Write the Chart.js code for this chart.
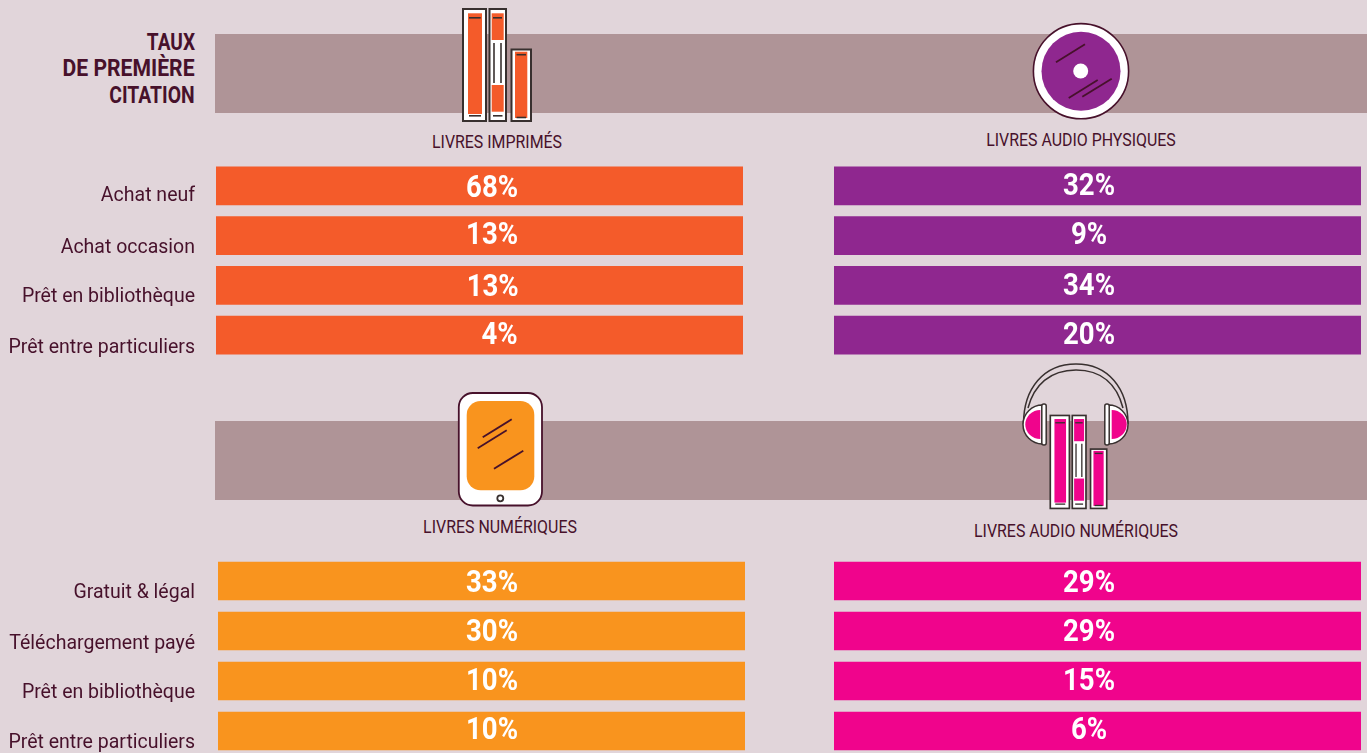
<!DOCTYPE html>
<html lang="fr">
<head>
<meta charset="utf-8">
<title>Taux de première citation</title>
<script src="https://cdn.jsdelivr.net/npm/chart.js@4"></script>
<style>
  html, body { margin: 0; padding: 0; }
  body { width: 1367px; height: 753px; overflow: hidden; position: relative; background: #e1d5da; font-family: Roboto, sans-serif; color: #47112b; }
  .band { position: absolute; left: 215px; width: 1152px; height: 79px; background: #af9497; }
  canvas { position: absolute; }
  svg { position: absolute; left: 0; top: 0; }
  .txt { position: absolute; white-space: nowrap; line-height: 1; }
  .heading { font-weight: 700; font-size: 23px; right: 1172px; transform-origin: right center; }
  .panel { font-size: 18.5px; transform: translateX(-50%) scaleX(0.86); }
</style>
</head>
<body>
<div class="band" style="top:34px"></div>
<div class="band" style="top:421px"></div>

<div class="txt heading" style="top:31px;transform:scaleX(0.83)">TAUX</div>
<div class="txt heading" style="top:57px;transform:scaleX(0.92)">DE PREMIÈRE</div>
<div class="txt heading" style="top:84px;transform:scaleX(0.84)">CITATION</div>

<div class="txt panel" style="left:497px;top:133px">LIVRES IMPRIMÉS</div>
<div class="txt panel" style="left:1081px;top:131px">LIVRES AUDIO PHYSIQUES</div>
<div class="txt panel" style="left:500px;top:518px">LIVRES NUMÉRIQUES</div>
<div class="txt panel" style="left:1076px;top:522px">LIVRES AUDIO NUMÉRIQUES</div>

<canvas id="printed" width="743" height="199" style="left:0;top:161px"></canvas>
<canvas id="audioPhysical" width="527" height="199" style="left:834px;top:161px"></canvas>
<canvas id="digital" width="745" height="200" style="left:0;top:556px"></canvas>
<canvas id="audioDigital" width="527" height="200" style="left:834px;top:556px"></canvas>

<svg width="1367" height="753" viewBox="0 0 1367 753">
  <defs>
    <g id="books">
      <g fill="#fff" stroke="#38302f" stroke-width="2">
        <rect x="463" y="9" width="23" height="112"/>
        <rect x="489.5" y="9" width="16.5" height="112"/>
        <rect x="511.5" y="49.5" width="19.5" height="71.5"/>
      </g>
      <g fill="currentColor">
        <rect x="468" y="13.3" width="14" height="100.7"/>
        <rect x="491.7" y="13.3" width="12" height="26.7"/>
        <rect x="491.7" y="85" width="12" height="26.7"/>
        <rect x="515" y="51.7" width="12.3" height="66.3"/>
      </g>
      <g stroke="#38302f" stroke-width="1.6">
        <line x1="469" y1="17.8" x2="480.7" y2="17.8"/>
        <line x1="469" y1="115.8" x2="481" y2="115.8"/>
        <line x1="493" y1="17.8" x2="502" y2="17.8"/>
        <line x1="493" y1="115.8" x2="502.5" y2="115.8"/>
        <line x1="494" y1="43" x2="494" y2="83"/>
        <line x1="501" y1="43" x2="501" y2="83"/>
        <line x1="516.5" y1="54.7" x2="526" y2="54.7"/>
        <line x1="516.5" y1="117.5" x2="526" y2="117.5"/>
      </g>
    </g>
  </defs>

  <use href="#books" style="color:#f45b2a"/>

  <!-- disque -->
  <circle cx="1081" cy="71.2" r="47.6" fill="#fff" stroke="#47112b" stroke-width="1.6"/>
  <circle cx="1081" cy="71.2" r="39.5" fill="#8f278f"/>
  <circle cx="1080.7" cy="71" r="7.5" fill="#fff"/>
  <g stroke="#47112b" stroke-width="1.8">
    <line x1="1056" y1="62.3" x2="1085" y2="44.3"/>
    <line x1="1068.7" y1="98" x2="1097.7" y2="80"/>
    <line x1="1082.3" y1="96.7" x2="1111.7" y2="78.7"/>
  </g>

  <!-- tablette -->
  <rect x="458.8" y="393" width="83.2" height="112.5" rx="14" fill="#fff" stroke="#47112b" stroke-width="1.8"/>
  <rect x="466.7" y="401" width="67.6" height="89.3" rx="14" fill="#f9941e"/>
  <g stroke="#47112b" stroke-width="1.8">
    <line x1="482.7" y1="437.3" x2="511.7" y2="419.3"/>
    <line x1="477.7" y1="448.3" x2="506.7" y2="430.3"/>
    <line x1="494" y1="468.7" x2="523.3" y2="450.7"/>
  </g>
  <circle cx="500.3" cy="498.3" r="3" fill="#fff" stroke="#38302f" stroke-width="1.8"/>

  <!-- casque et livres audio -->
  <g fill="none" stroke="#38302f" stroke-width="1.5">
    <path d="M1023.5 424 C1023.5 388 1044 364 1076 364 S1128 388 1128 424"/>
    <path d="M1028 408 C1034 385 1050 370 1076 370 S1117 385 1123 408"/>
  </g>
  <g fill="#fff" stroke="#38302f" stroke-width="1.5">
    <path d="M1042.5 405 A19.5 19.5 0 0 0 1042.5 444 Z"/>
    <path d="M1108.5 405 A19.5 19.5 0 0 1 1108.5 444 Z"/>
    <rect x="1041.8" y="404" width="4.4" height="41" rx="2"/>
    <rect x="1104.8" y="404" width="4.4" height="41" rx="2"/>
  </g>
  <path d="M1040.3 410 A15 14.5 0 0 0 1040.3 439 Z" fill="#f0048c"/>
  <path d="M1111.7 410 A15 14.5 0 0 1 1111.7 439 Z" fill="#f0048c"/>
  <use href="#books" transform="translate(666 408) scale(0.83)" style="color:#f0048c"/>
</svg>

<script>
const topCategories = ["Achat neuf", "Achat occasion", "Prêt en bibliothèque", "Prêt entre particuliers"];
const bottomCategories = ["Gratuit & légal", "Téléchargement payé", "Prêt en bibliothèque", "Prêt entre particuliers"];

const printedValues = [68, 13, 13, 4];
const audioPhysicalValues = [32, 9, 34, 20];
const digitalValues = [33, 30, 10, 10];
const audioDigitalValues = [29, 29, 15, 6];

// every bar runs the full panel width, the figure is only in its label
const fullBars = [100, 100, 100, 100];

const INK = "#47112b";

// squeeze Roboto a bit so it sits closer to the condensed face of the original
function drawSqueezed(ctx, text, x, y, squeeze) {
  ctx.save();
  ctx.translate(x, y);
  ctx.scale(squeeze, 1);
  ctx.fillText(text, 0, 0);
  ctx.restore();
}

const barTextPlugin = {
  id: "barText",
  afterDatasetsDraw(chart, args, opts) {
    const { ctx, scales } = chart;
    ctx.save();
    ctx.textBaseline = "middle";

    ctx.fillStyle = "#fff";
    ctx.textAlign = "center";
    ctx.font = "700 31px Roboto, sans-serif";
    opts.values.forEach((value, i) => {
      const x = scales.x.getPixelForValue(opts.labelAt[i]);
      drawSqueezed(ctx, value + "%", x, scales.y.getPixelForValue(i) + opts.valueDrop[i], 0.89);
    });

    if (opts.categoryDrop) {
      ctx.fillStyle = INK;
      ctx.textAlign = "right";
      ctx.font = "400 19.5px Roboto, sans-serif";
      chart.data.labels.forEach((label, i) => {
        drawSqueezed(ctx, label, 195, scales.y.getPixelForValue(i) + opts.categoryDrop[i], 1);
      });
    }
    ctx.restore();
  },
};

function drawPanel(id, categories, values, color, leftPad, textOptions) {
  return new Chart(document.getElementById(id), {
    type: "bar",
    data: {
      labels: categories,
      datasets: [
        {
          data: fullBars,
          backgroundColor: color,
          borderWidth: 0,
          barThickness: 38,
        },
      ],
    },
    options: {
      indexAxis: "y",
      responsive: false,
      animation: false,
      layout: { padding: { left: leftPad, right: 0, top: 0, bottom: 0 } },
      scales: {
        x: { display: false, min: 0, max: 100 },
        y: { display: false },
      },
      plugins: {
        legend: { display: false },
        tooltip: { enabled: false },
        barText: { values: values, ...textOptions },
      },
    },
    plugins: [barTextPlugin],
  });
}

document.fonts.load("700 31px Roboto").then(() => document.fonts.load("400 20px Roboto")).finally(() => {
  drawPanel("printed", topCategories, printedValues, "#f45b2a", 216, {
    labelAt: [52.4, 52.4, 52.5, 53.8],
    valueDrop: [3, 1, 3, 1],
    categoryDrop: [10, 12, 12, 13],
  });
  drawPanel("audioPhysical", topCategories, audioPhysicalValues, "#8f278f", 0, {
    labelAt: [48.4, 48.4, 48.4, 48.4],
    valueDrop: [1, 1, 2, 1],
  });
  drawPanel("digital", bottomCategories, digitalValues, "#f9941e", 218, {
    labelAt: [52, 52, 52, 52],
    valueDrop: [3, 2, 1, 0],
    categoryDrop: [12, 13, 12, 12],
  });
  drawPanel("audioDigital", bottomCategories, audioDigitalValues, "#f0048c", 0, {
    labelAt: [48.4, 48.4, 48.4, 48.4],
    valueDrop: [3, 2, 1, 0],
  });
});
</script>
</body>
</html>
